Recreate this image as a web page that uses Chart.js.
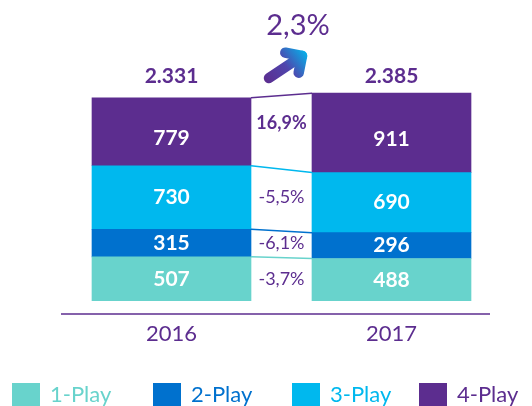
<!DOCTYPE html>
<html>
<head>
<meta charset="utf-8">
<script src="https://cdn.jsdelivr.net/npm/chart.js@4.4.1/dist/chart.umd.min.js"></script>
<style>
  html, body { margin: 0; padding: 0; background: #ffffff; }
  #wrap { width: 532px; height: 406px; position: relative; }
</style>
</head>
<body>
<div id="wrap"><canvas id="c" width="532" height="406"></canvas></div>
<script>
// Customers by number of services, thousands
const years = ['2016', '2017'];
const seriesNames = ['1-Play', '2-Play', '3-Play', '4-Play'];
const play1 = [507, 488];
const play2 = [315, 296];
const play3 = [730, 690];
const play4 = [779, 911];
const totalLabels = ['2.331', '2.385'];
const changeLabels = ['-3,7%', '-6,1%', '-5,5%', '16,9%'];
const growthLabel = '2,3%';

const colors = ['#68D3CC', '#0071CE', '#00B8EE', '#5C2D8F'];
const textPurple = '#5C2D8F';
const FONT = 'Lato, "Open Sans", sans-serif';

const overlay = {
  id: 'overlay',
  afterDatasetsDraw(chart) {
    const ctx = chart.ctx;
    const metas = chart.data.datasets.map((d, i) => chart.getDatasetMeta(i));
    const y0 = chart.scales.y.getPixelForValue(0);
    ctx.save();

    // connectors between the tops of matching segments
    metas.forEach((meta, i) => {
      const a = meta.data[0], b = meta.data[1];
      ctx.beginPath();
      ctx.strokeStyle = colors[i];
      ctx.lineWidth = 1.5;
      ctx.moveTo(a.x + a.width / 2, a.y);
      ctx.lineTo(b.x - b.width / 2, b.y);
      ctx.stroke();
    });

    // values inside segments
    ctx.textAlign = 'center';
    ctx.textBaseline = 'middle';
    ctx.fillStyle = '#ffffff';
    ctx.font = 'bold 21px ' + FONT;
    metas.forEach((meta, i) => {
      const vals = chart.data.datasets[i].data;
      meta.data.forEach((bar, j) => {
        const nudge = i === metas.length - 1 ? 6 : 0;
        ctx.fillText(String(vals[j]), bar.x, (bar.y + bar.base) / 2 + nudge);
      });
    });

    // change labels between the bars
    ctx.fillStyle = textPurple;
    metas.forEach((meta, i) => {
      const a = meta.data[0], b = meta.data[1];
      const cx = ((a.x + a.width / 2) + (b.x - b.width / 2)) / 2;
      const top = i === metas.length - 1;
      ctx.font = (top ? 'bold ' : '') + '18px ' + FONT;
      const cy = (a.y + a.base) / 2 + (top ? -9 : 0);
      ctx.fillText(changeLabels[i], cx, cy);
    });

    // totals above the bars
    const topMeta = metas[metas.length - 1];
    ctx.font = 'bold 21px ' + FONT;
    topMeta.data.forEach((bar, j) => {
      ctx.fillText(totalLabels[j], bar.x, 76);
    });

    // baseline
    ctx.beginPath();
    ctx.strokeStyle = textPurple;
    ctx.lineWidth = 1.5;
    ctx.moveTo(61, y0 + 13);
    ctx.lineTo(490, y0 + 13);
    ctx.stroke();

    // year labels
    ctx.font = '22px ' + FONT;
    topMeta.data.forEach((bar, j) => {
      ctx.fillText(years[j], bar.x, y0 + 33);
    });

    // growth figure with arrow
    ctx.font = '29px ' + FONT;
    ctx.fillText(growthLabel, 298, 26);

    const tail = { x: 269, y: 78 }, tip = { x: 302, y: 56 };
    const g = ctx.createLinearGradient(265, 82, 307, 50);
    g.addColorStop(0, '#5C2D8F');
    g.addColorStop(0.5, '#4F45AD');
    g.addColorStop(1, '#00B8EE');
    ctx.strokeStyle = g;
    ctx.lineWidth = 10.5;
    ctx.lineCap = 'round';
    ctx.lineJoin = 'round';
    ctx.beginPath();
    ctx.moveTo(tail.x, tail.y);
    ctx.lineTo(tip.x, tip.y);
    ctx.stroke();
    ctx.beginPath();
    ctx.moveTo(285.3, 52.7);
    ctx.lineTo(tip.x, tip.y);
    ctx.lineTo(298.7, 72.7);
    ctx.stroke();

    // legend
    const legendX = [12, 153, 292, 419];
    ctx.font = '22px ' + FONT;
    ctx.textAlign = 'left';
    ctx.textBaseline = 'alphabetic';
    seriesNames.forEach((name, i) => {
      ctx.fillStyle = colors[i];
      ctx.fillRect(legendX[i], 383, 28, 28);
      ctx.fillText(name, legendX[i] + 38, 402);
    });

    ctx.restore();
  }
};

function build() {
  new Chart(document.getElementById('c'), {
    type: 'bar',
    data: {
      labels: years,
      datasets: [play1, play2, play3, play4].map((d, i) => ({
        label: seriesNames[i],
        data: d,
        backgroundColor: colors[i],
        borderWidth: 0,
        barThickness: 159
      }))
    },
    options: {
      responsive: false,
      animation: false,
      layout: { padding: { left: 61.5, right: 30.5, top: 57, bottom: 105 } },
      plugins: { legend: { display: false }, tooltip: { enabled: false } },
      scales: {
        x: { stacked: true, display: false },
        y: { stacked: true, display: false, min: 0, max: 2800 }
      }
    },
    plugins: [overlay]
  });
}

Promise.all([
  document.fonts.load('bold 20px Lato'),
  document.fonts.load('20px Lato')
]).then(build, build);
</script>
</body>
</html>
